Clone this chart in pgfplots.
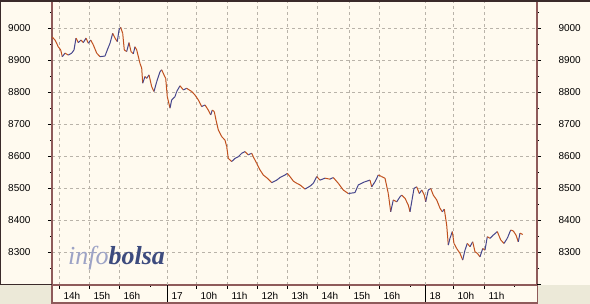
\documentclass[border=0pt]{standalone}
\usepackage{pgfplots}
\pgfplotsset{compat=1.18}
\usepackage{pgfplotstable}
\usepackage{fontspec}
\setmainfont{Liberation Sans}
\newfontfamily\wmfont{Liberation Serif}
\definecolor{bgc}{HTML}{FFFAEF}
\definecolor{greyc}{HTML}{ECE9D8}
\definecolor{maroonc}{HTML}{8E5A5A}
\definecolor{gridc}{HTML}{B9B3A9}
\definecolor{upc}{HTML}{46468C}
\definecolor{dnc}{HTML}{C0501E}
\definecolor{infoc}{HTML}{9DA3C6}
\definecolor{bolsac}{HTML}{3D4B7E}
\definecolor{darkc}{HTML}{3A2A2A}

\pgfplotstableread{
x y c
52.3 8972 0
55 8963 0
58.3 8942 0
60.7 8932 0
62.3 8911 1
65 8922 0
68.3 8916 1
71.7 8922 1
74 8932 1
76 8969 0
78.3 8955 1
81 8963 0
83.3 8955 1
86 8969 0
88.3 8953 1
90.7 8963 0
93.3 8948 0
96.7 8922 0
100 8911 1
105 8913 1
107.3 8932 1
110 8953 1
112.7 8984 0
115 8969 0
117.3 8958 1
119 8995 1
120.7 9003 0
122.7 8984 0
124.3 8932 0
126.7 8927 1
129 8955 0
131 8927 0
133.3 8920 1
135 8942 0
136.7 8932 0
140 8890 0
141.7 8875 0
142.7 8828 1
145 8849 0
146.7 8843 1
149 8854 0
151.7 8817 0
154 8802 1
156.7 8833 1
160 8864 1
161.7 8870 0
164 8854 0
165.7 8843 0
167.3 8786 0
170 8750 1
171.7 8776 1
175 8786 1
176.7 8802 1
180 8820 0
183.3 8807 1
186.7 8812 0
191.7 8802 0
195 8791 0
198.3 8776 0
201.7 8755 1
205 8760 0
208.3 8744 0
210.7 8729 1
212.3 8744 0
214.3 8739 0
216 8713 0
218.3 8682 0
221.7 8661 0
225 8650 0
226.7 8630 0
228.3 8593 0
231.7 8583 1
235 8593 1
238.3 8598 1
241.7 8609 1
245 8614 0
248.3 8604 1
251.7 8609 0
253.3 8598 0
256.7 8577 0
260 8557 0
263.3 8541 0
267.3 8531 0
271.7 8517 1
276.7 8525 1
280 8533 1
285 8541 1
287.3 8546 0
290 8536 0
293.3 8522 0
296.7 8515 0
300 8510 0
305 8497 1
310 8506 1
313.3 8515 1
316.7 8536 0
320 8525 1
325 8531 0
330 8528 1
333.3 8533 0
338.3 8515 0
343.3 8494 0
348.3 8483 1
355 8486 1
358.3 8510 1
365 8520 1
370 8525 0
371.7 8504 1
375 8520 1
378.3 8541 0
381.7 8536 0
385 8531 0
388.3 8483 0
390.7 8426 1
393.3 8463 0
396.7 8457 1
400 8473 1
401.7 8478 0
405 8468 0
408.3 8447 0
410 8426 1
411.7 8457 1
414 8499 1
416.7 8504 0
419.3 8483 1
421.7 8494 0
424.3 8478 0
425.7 8457 1
428.3 8494 1
430.7 8499 0
433.3 8478 0
436.7 8463 0
440 8437 0
442.3 8426 1
444.3 8434 0
446.7 8384 0
448.3 8322 1
450 8343 1
452.3 8364 0
454 8327 0
456.7 8311 0
460 8296 0
462.7 8275 1
465 8306 1
467.3 8327 0
470 8317 1
472.7 8332 0
475 8301 0
477.3 8296 0
480 8285 1
482.7 8311 0
485 8306 1
487.3 8348 0
490 8343 1
493.3 8353 1
497.3 8364 0
500.7 8338 0
504 8327 1
507.3 8343 1
510.7 8369 0
513.3 8366 0
516 8353 0
518.3 8332 1
520 8359 0
522.7 8355 0
}\prices

\pgfplotsset{
  common/.style={
    at={(52pt,19pt)}, anchor=south west,
    width=485pt, height=283pt, scale only axis,
    xmin=52, xmax=537, ymin=8197, ymax=9082,
    tick align=outside,
    major tick length=4pt, minor tick length=2pt,
    tick style={black, line width=0.6pt},
    ticklabel style={font=\fontsize{10}{12}\selectfont, text=black},
    /pgf/number format/assume math mode=true,
    /pgf/number format/1000 sep={},
    ytick={8300,8400,...,9000},
    minor ytick={8250,8350,...,9050},
    extra y ticks={8200}, extra y tick labels={},
    extra y tick style={grid=none},
  }
}

\begin{document}
\begin{tikzpicture}[x=1pt,y=1pt]
\useasboundingbox (0,0) rectangle (590,304);
\fill[bgc] (0,0) rectangle (590,304);
\fill[greyc] (0,0) rectangle (52,19);
\fill[greyc] (537,0) rectangle (590,19);

\begin{axis}[common,
  axis x line*=bottom, axis y line*=left,
  axis line style={maroonc, line width=2pt},
  grid=major,
  major grid style={gridc, dash pattern=on 3pt off 3pt, line width=0.6pt},
  xtick={59,89,119,167,196,227,257,287,317,349,379,425,453,484},
  xticklabels={14h,15h,16h,17,10h,11h,12h,13h,14h,15h,16h,18,10h,11h},
  minor xtick={150,410,514},
  extra x ticks={167,425}, extra x tick labels={},
  extra x tick style={major tick length=17pt, grid=major},
  xticklabel style={anchor=west, xshift=1pt, yshift=-7pt},
  yticklabel style={anchor=east, xshift=-14pt},
  colormap={updown}{color(0)=(dnc) color(1)=(upc)},
]
\addplot[mesh, shader=flat corner, point meta=explicit, line width=1pt, line join=round]
  table[x=x, y=y, meta=c] {\prices};
\end{axis}

\begin{axis}[common,
  axis y line*=right, axis x line=none,
  axis line style={maroonc, line width=2pt},
  yticklabel style={anchor=west, xshift=14pt},
]
\end{axis}

\node[anchor=base west, inner sep=0pt] at (68,39)
  {\fontsize{26}{28}\selectfont\wmfont\itshape\textcolor{infoc}{info}\textcolor{bolsac}{\bfseries bolsa}};

% frame decorations
\draw[darkc, line width=2pt] (0,303) -- (590,303);
\draw[darkc, line width=1.2pt] (0.6,19) -- (0.6,304);
\draw[darkc, line width=1pt] (0,19) -- (52,19);
\draw[maroonc, line width=2pt] (52,0) -- (52,19);
\draw[maroonc, line width=2pt] (51,1.2) -- (538,1.2);
\draw[maroonc, line width=1pt] (537,0) -- (537,19);
\end{tikzpicture}
\end{document}
